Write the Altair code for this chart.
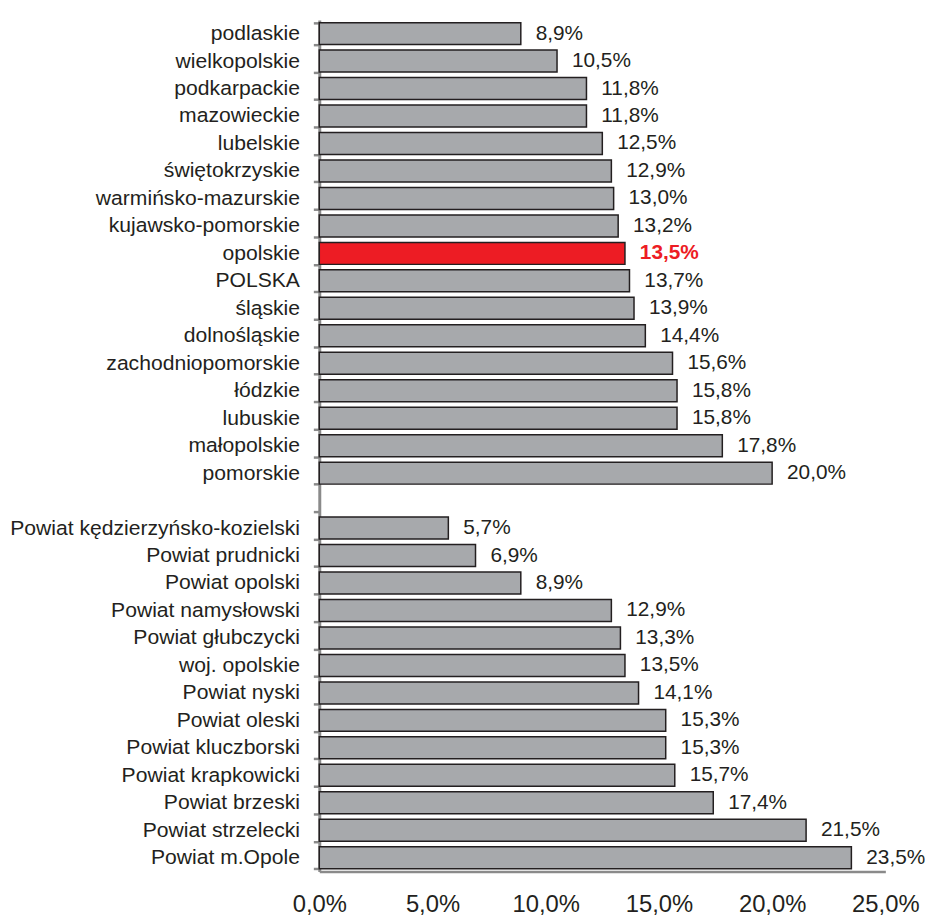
import altair as alt
import pandas as pd

categories = [
    "podlaskie", "wielkopolskie", "podkarpackie", "mazowieckie", "lubelskie",
    "świętokrzyskie", "warmińsko-mazurskie", "kujawsko-pomorskie", "opolskie",
    "POLSKA ", "śląskie", "dolnośląskie", "zachodniopomorskie", "łódzkie",
    "lubuskie", "małopolskie", "pomorskie", " ",
    "Powiat kędzierzyńsko-kozielski", "Powiat prudnicki", "Powiat opolski",
    "Powiat namysłowski", "Powiat głubczycki", "woj. opolskie", "Powiat nyski",
    "Powiat oleski", "Powiat kluczborski", "Powiat krapkowicki", "Powiat brzeski",
    "Powiat strzelecki", "Powiat m.Opole",
]
values = [
    8.9, 10.5, 11.8, 11.8, 12.5, 12.9, 13.0, 13.2, 13.5, 13.7, 13.9, 14.4,
    15.6, 15.8, 15.8, 17.8, 20.0, None,
    5.7, 6.9, 8.9, 12.9, 13.3, 13.5, 14.1, 15.3, 15.3, 15.7, 17.4, 21.5, 23.5,
]
highlight = "opolskie"

df = pd.DataFrame({"cat": categories, "val": values})
df["label"] = df["val"].map(lambda v: "" if pd.isna(v) else f"{v:.1f}".replace(".", ",") + "%")

GRAY = "#a7a9ac"
RED = "#ed1c24"
DARK = "#231f20"
AXIS = "#8a8a8a"
FONT = "Liberation Sans"

y = alt.Y("cat:N", sort=categories, title=None,
          scale=alt.Scale(paddingInner=0.2, paddingOuter=0.1),
          axis=alt.Axis(labelFontSize=21.3, labelColor=DARK, labelFont=FONT,
                        labelPadding=14, tickSize=6, tickColor=AXIS, tickWidth=2.5,
                        domainColor=AXIS, domainWidth=3, tickBand="extent",
                        labelLimit=400))
x = alt.X("val:Q", title=None,
          scale=alt.Scale(domain=[0, 25], nice=False),
          axis=alt.Axis(values=[0, 5, 10, 15, 20, 25], ticks=False, grid=False,
                        labelFontSize=24, labelColor=DARK, labelFont=FONT,
                        labelPadding=21, domainColor=AXIS, domainWidth=2.5,
                        labelFlush=False,
                        labelExpr="replace(format(datum.value, '.1f'), '.', ',') + '%'"))

bars = alt.Chart(df).mark_bar(stroke=DARK, strokeWidth=1.5).encode(
    x=x, y=y,
    fill=alt.condition(alt.datum.cat == highlight, alt.value(RED), alt.value(GRAY)),
)

text = alt.Chart(df).transform_filter(alt.datum.cat != highlight).mark_text(
    align="left", baseline="middle", dx=15, fontSize=21, font=FONT,
    color=DARK).encode(
    x="val:Q", y=alt.Y("cat:N", sort=categories), text="label:N",
)
text_hi = alt.Chart(df).transform_filter(alt.datum.cat == highlight).mark_text(
    align="left", baseline="middle", dx=15, fontSize=21, font=FONT,
    color=RED, fontWeight="bold").encode(
    x="val:Q", y=alt.Y("cat:N", sort=categories), text="label:N",
)

chart = (bars + text + text_hi).properties(
    width=571, height=859,
    background="white",
    autosize=alt.AutoSizeParams(type="none"),
    padding={"left": 314, "top": 8, "right": 40, "bottom": 48},
).configure_view(stroke=None)

chart.save("out.html", embed_options={"renderer": "svg", "actions": False})
